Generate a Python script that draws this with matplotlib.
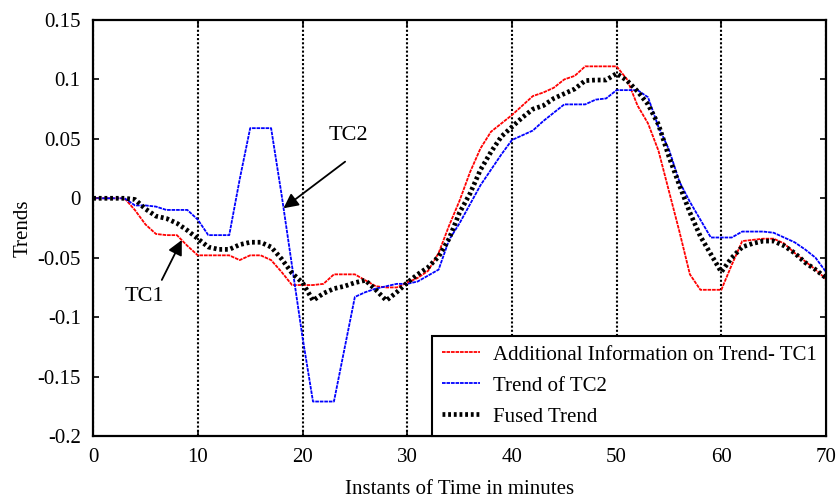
import matplotlib
matplotlib.use("Agg")
from matplotlib import pyplot as plt

# time axis, minutes
minutes = list(range(71))

# Additional Information on Trend- TC1
trend_tc1 = [0, 0, 0, 0, -0.010, -0.022, -0.030, -0.031, -0.031, -0.040,
             -0.048, -0.048, -0.048, -0.048, -0.052, -0.048, -0.048, -0.052, -0.062, -0.073,
             -0.073, -0.073, -0.072, -0.064, -0.064, -0.064, -0.069, -0.074, -0.075, -0.075,
             -0.071, -0.067, -0.061, -0.046, -0.023, -0.002, 0.022, 0.042, 0.056, 0.063,
             0.070, 0.078, 0.086, 0.089, 0.093, 0.100, 0.103, 0.111, 0.111, 0.111,
             0.111, 0.100, 0.078, 0.063, 0.040, 0.006, -0.028, -0.064, -0.077, -0.077,
             -0.077, -0.056, -0.036, -0.035, -0.034, -0.034, -0.038, -0.046, -0.053, -0.060,
             -0.068]

# Trend of TC2
trend_tc2 = [0, 0, 0, 0, -0.006, -0.006, -0.007, -0.0098, -0.0098, -0.0098,
             -0.018, -0.031, -0.031, -0.031, 0.016, 0.059, 0.059, 0.059, 0.003, -0.057,
             -0.117, -0.171, -0.171, -0.171, -0.127, -0.083, -0.079, -0.076, -0.074, -0.072,
             -0.072, -0.070, -0.065, -0.060, -0.035, -0.021, -0.005, 0.011, 0.024, 0.037,
             0.049, 0.053, 0.057, 0.065, 0.072, 0.079, 0.079, 0.079, 0.083, 0.084,
             0.091, 0.091, 0.091, 0.085, 0.060, 0.041, 0.014, -0.003, -0.018, -0.033,
             -0.033, -0.033, -0.028, -0.028, -0.028, -0.029, -0.033, -0.037, -0.043, -0.050,
             -0.062]

# Fused Trend
fused = [0, 0, 0, 0, -0.001, -0.009, -0.015, -0.017, -0.021, -0.027,
         -0.034, -0.041, -0.043, -0.043, -0.039, -0.037, -0.037, -0.041, -0.051, -0.063,
         -0.071, -0.086, -0.080, -0.076, -0.074, -0.071, -0.069, -0.077, -0.086, -0.079,
         -0.071, -0.064, -0.058, -0.049, -0.034, -0.012, 0.004, 0.024, 0.039, 0.052,
         0.060, 0.068, 0.075, 0.078, 0.084, 0.088, 0.092, 0.099, 0.0995, 0.0995,
         0.105, 0.099, 0.090, 0.079, 0.062, 0.035, 0.011, -0.012, -0.032, -0.047,
         -0.062, -0.050, -0.041, -0.038, -0.036, -0.036, -0.040, -0.046, -0.054, -0.060,
         -0.067]

x_ticks = [0, 10, 20, 30, 40, 50, 60, 70]
y_ticks = [-0.2, -0.15, -0.1, -0.05, 0, 0.05, 0.1, 0.15]
y_tick_labels = ["-0.2", "-0.15", "-0.1", "-0.05", "0", "0.05", "0.1", "0.15"]

plt.rcParams["font.family"] = ["Liberation Serif", "DejaVu Serif"]
plt.rcParams["font.size"] = 15

fig = plt.figure(figsize=(8.39, 5.0), dpi=100)
ax = fig.add_axes([0.111, 0.128, 0.8735, 0.832])

# red / blue thin dotted, fused thick dotted
ax.plot(minutes, trend_tc1, color="red", lw=1.3, ls=(0, (2, 0.5)),
        label="Additional Information on Trend- TC1")
ax.plot(minutes, trend_tc2, color="blue", lw=1.3, ls=(0, (2, 0.5)),
        label="Trend of TC2")
ax.plot(minutes, fused, color="black", lw=3.4, ls=(0, (0.6, 0.6)),
        label="Fused Trend")

ax.set_xlim(0, 70)
ax.set_ylim(-0.2, 0.15)
ax.set_xticks(x_ticks)
ax.set_yticks(y_ticks)
ax.set_yticklabels(y_tick_labels)
ax.xaxis.grid(True, color="black", ls=(0, (1, 1)), lw=1.5)
ax.set_axisbelow(True)
ax.tick_params(direction="in", length=4, width=1.2, top=True, right=True, pad=9)
for s in ax.spines.values():
    s.set_linewidth(1.6)

ax.set_xlabel("Instants of Time in minutes", labelpad=9)
ax.set_ylabel("Trends", labelpad=3)

# annotations
arrow = dict(arrowstyle="-|>", color="black", lw=1.3, mutation_scale=22,
             shrinkA=0, shrinkB=0)
ax.annotate("", xy=(18.18, -0.0084), xytext=(24.07, 0.0308), arrowprops=arrow)
ax.text(24.4, 0.053, "TC2", ha="center", va="center", fontsize=16)
ax.annotate("", xy=(8.47, -0.0351), xytext=(6.56, -0.0687), arrowprops=arrow)
ax.text(4.87, -0.0826, "TC1", ha="center", va="center", fontsize=16)

leg = ax.legend(loc="lower right", borderaxespad=0, fancybox=False,
                framealpha=1, edgecolor="black", handlelength=1.85,
                handletextpad=0.6, labelspacing=0.55, borderpad=0.45,
                fontsize=15)
leg.get_frame().set_linewidth(1.5)

fig.savefig("out.png", dpi=100)
